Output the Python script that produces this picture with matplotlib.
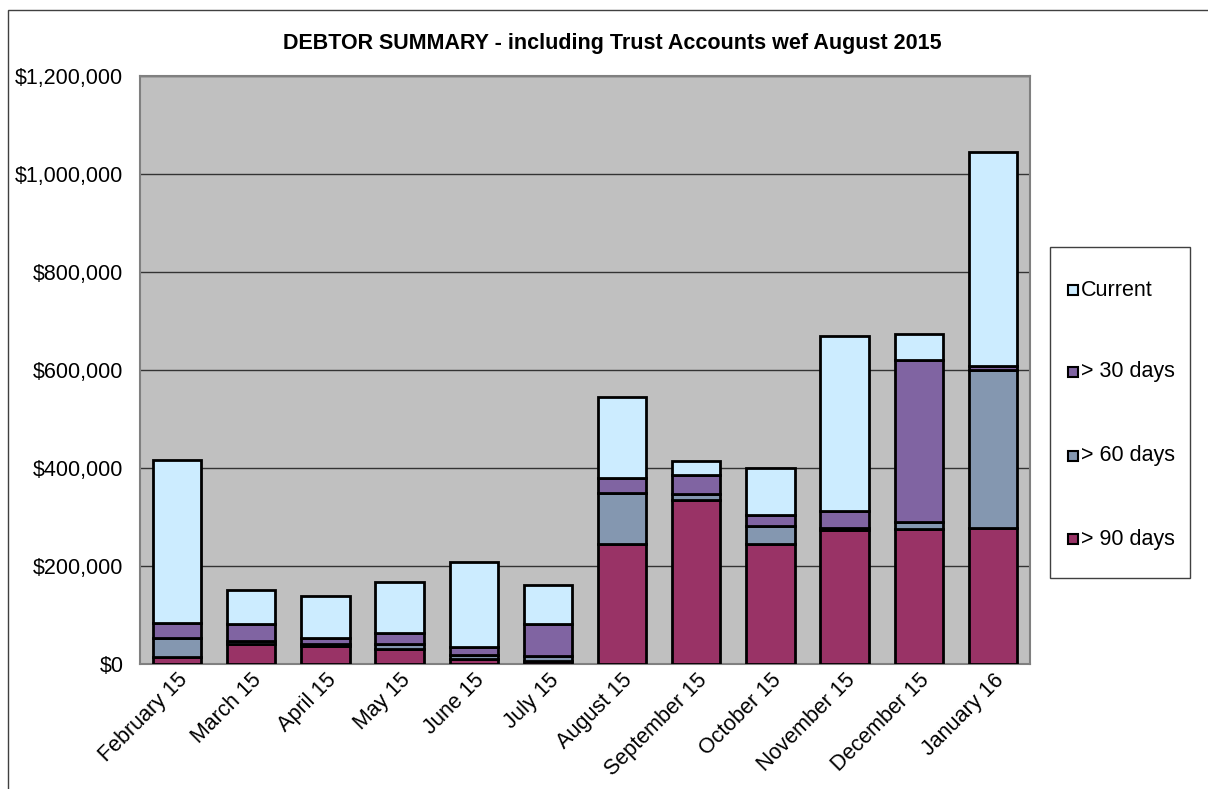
import matplotlib
matplotlib.use("Agg")
import matplotlib.pyplot as plt
from matplotlib.patches import Rectangle
import numpy as np

plt.rcParams['font.family'] = ['Liberation Sans', 'DejaVu Sans']

months = ["February 15", "March 15", "April 15", "May 15", "June 15", "July 15",
          "August 15", "September 15", "October 15", "November 15", "December 15", "January 16"]
over90 = [15000, 40000, 37000, 31000, 11000, 7000, 245000, 334000, 245000, 273000, 275000, 278000]
over60 = [39000, 6000, 4000, 10000, 7000, 10000, 103000, 13000, 37000, 5000, 15000, 321000]
over30 = [30000, 35000, 13000, 22000, 17000, 64000, 32000, 38000, 23000, 34000, 330000, 10000]
current = [332000, 70000, 84000, 104000, 173000, 80000, 165000, 29000, 96000, 358000, 53000, 436000]

series = [("> 90 days", over90, "#993366"),
          ("> 60 days", over60, "#8497B0"),
          ("> 30 days", over30, "#8064A2"),
          ("Current", current, "#CCECFF")]

FS = 15.5
W, H = 1208, 789
fig = plt.figure(figsize=(W / 100, H / 100), dpi=100)
fig.patch.set_facecolor("white")

def fx(px):
    return px / W

def fy(py):
    return 1 - py / H

# outer chart border
fig.add_artist(Rectangle((fx(8), -0.1), 1.2, fy(10) + 0.1, transform=fig.transFigure,
                         fill=False, edgecolor="#404040", linewidth=1))

ax = fig.add_axes([fx(140), fy(664), fx(1030 - 140), (664 - 76) / H])
ax.set_facecolor("#C0C0C0")

x = np.arange(len(months))
bottom = np.zeros(len(months))
for name, vals, col in series:
    v = np.array(vals, dtype=float)
    ax.bar(x, v, bottom=bottom, width=0.65, color=col, edgecolor="black",
           linewidth=2, label=name, zorder=3)
    bottom += v

ax.set_xlim(-0.5, len(months) - 0.5)
ax.set_ylim(0, 1200000)
yt = np.arange(0, 1200001, 200000)
ax.set_yticks(yt)
ax.set_yticklabels(["${:,.0f}".format(t) for t in yt], fontsize=FS)
ax.yaxis.grid(True, color="#333333", linewidth=1, zorder=1)
ax.set_axisbelow(True)
ax.tick_params(axis="y", length=0, pad=12)
ax.tick_params(axis="x", length=0, pad=4)
ax.set_xticks(x)
ax.set_xticklabels(months, rotation=45, ha="right", rotation_mode="anchor", fontsize=FS)
for s in ax.spines.values():
    s.set_color("#808080")
    s.set_linewidth(1.5)

fig.text(fx(612), fy(44),
         "DEBTOR SUMMARY - including Trust Accounts wef August 2015",
         ha="center", va="center", fontsize=FS, fontweight="bold")

# legend box drawn to match the original layout
fig.add_artist(Rectangle((fx(1050), fy(578)), fx(1190 - 1050), (578 - 247) / H,
                         transform=fig.transFigure, facecolor="white",
                         edgecolor="#404040", linewidth=1))
legend_rows = [("Current", "#CCECFF", 290), ("> 30 days", "#8064A2", 372),
               ("> 60 days", "#8497B0", 456), ("> 90 days", "#993366", 539)]
for name, col, yc in legend_rows:
    fig.add_artist(Rectangle((fx(1068), fy(yc + 5)), fx(10), 10 / H,
                             transform=fig.transFigure, facecolor=col,
                             edgecolor="black", linewidth=1.5))
    fig.text(fx(1081), fy(yc), name, ha="left", va="center", fontsize=FS)

fig.savefig("out.png", dpi=100)
